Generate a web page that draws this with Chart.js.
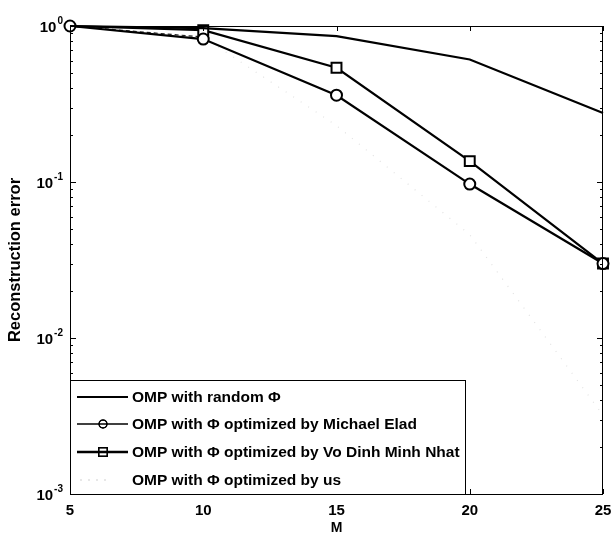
<!DOCTYPE html>
<html>
<head>
<meta charset="utf-8">
<script src="https://cdn.jsdelivr.net/npm/chart.js@4.4.1/dist/chart.umd.min.js"></script>
<style>
  html, body { margin: 0; padding: 0; background: #fff; }
  #wrap { width: 612px; height: 537px; }
</style>
</head>
<body>
<div id="wrap"><canvas id="c" width="612" height="537"></canvas></div>
<script>
// Number of measurements M and reconstruction error for each method
const mValues   = [5, 10, 15, 20, 25];
const errRandom = [1.0, 0.97, 0.86, 0.61, 0.277];
const errElad   = [1.0, 0.825, 0.36, 0.097, 0.030];
const errNhat   = [1.0, 0.94, 0.54, 0.136, 0.030];
const errOurs   = [1.0, 0.85, 0.23, 0.046, 0.0032];

const seriesNames = [
  'OMP with random \u03A6',
  'OMP with \u03A6 optimized by Michael Elad',
  'OMP with \u03A6 optimized by Vo Dinh Minh Nhat',
  'OMP with \u03A6 optimized by us'
];

const xTickValues = [5, 10, 15, 20, 25];
const yDecadeExponents = [0, -1, -2, -3];

const FONT = '"Liberation Sans", Arial, Helvetica, sans-serif';
Chart.defaults.font.family = FONT;
Chart.defaults.color = '#000';

const toPoints = arr => arr.map((v, i) => ({ x: mValues[i], y: v }));

// Axes box with inward MATLAB-style ticks, superscript decade labels, and an in-plot legend
const matlabAxes = {
  id: 'matlabAxes',
  afterDatasetsDraw(chart) {
    const { ctx, chartArea: a, scales: { x, y } } = chart;
    ctx.save();
    ctx.strokeStyle = '#000';
    ctx.lineWidth = 1;
    const seg = (x1, y1, x2, y2) => { ctx.beginPath(); ctx.moveTo(x1, y1); ctx.lineTo(x2, y2); ctx.stroke(); };

    // x ticks (top and bottom, pointing inward)
    xTickValues.forEach(v => {
      const px = Math.round(x.getPixelForValue(v)) + 0.5;
      seg(px, a.bottom, px, a.bottom - 5);
      seg(px, a.top, px, a.top + 5);
    });
    // y ticks: decades long, 2..9 short
    yDecadeExponents.forEach(e => {
      for (let m = 1; m <= 9; m++) {
        const v = m * Math.pow(10, e);
        if (v > y.max * 1.0001 || v < y.min * 0.9999) continue;
        const py = Math.round(y.getPixelForValue(v)) + 0.5;
        const len = m === 1 ? 6 : 3;
        seg(a.left, py, a.left + len, py);
        seg(a.right, py, a.right - len, py);
      }
    });
    ctx.strokeRect(Math.round(a.left) + 0.5, Math.round(a.top) + 0.5,
                   Math.round(a.right - a.left) - 1, Math.round(a.bottom - a.top));

    // decade labels 10^n
    ctx.fillStyle = '#000';
    yDecadeExponents.forEach(e => {
      const py = y.getPixelForValue(Math.pow(10, e));
      const expText = e === 0 ? '0' : '-' + Math.abs(e);
      ctx.font = 'bold 10px ' + FONT;
      const we = ctx.measureText(expText).width;
      const right = a.left - 7;
      ctx.textAlign = 'left';
      ctx.textBaseline = 'alphabetic';
      ctx.fillText(expText, right - we, py - 2);
      ctx.font = 'bold 15px ' + FONT;
      ctx.textAlign = 'right';
      ctx.fillText('10', right - we - 1, py + 6);
    });

    // legend box
    const lx = a.left, ly = 380, lw = 395, lh = a.bottom - ly;
    ctx.fillStyle = '#fff';
    ctx.fillRect(lx, ly, lw, lh);
    ctx.strokeRect(Math.round(lx) + 0.5, ly + 0.5, lw, lh);
    const rowY = [397, 424, 452, 480];
    chart.data.datasets.forEach((ds, i) => {
      const yy = rowY[i];
      ctx.save();
      ctx.strokeStyle = ds.legendColor;
      ctx.lineWidth = ds.legendWidth;
      ctx.setLineDash(ds.legendDash || []);
      seg(ds.legendDash ? 80 : 77, yy, ds.legendDash ? 112 : 128, yy);
      ctx.restore();
      if (ds.legendMarker) {
        ctx.save();
        ctx.strokeStyle = '#000';
        ctx.fillStyle = 'rgba(0,0,0,0)';
        Chart.helpers.drawPoint(ctx, { pointStyle: ds.pointStyle, radius: ds.legendRadius, borderWidth: 1.5 }, 103, yy);
        ctx.lineWidth = 1.5;
        ctx.stroke();
        ctx.restore();
      }
      ctx.fillStyle = '#000';
      ctx.font = 'bold 15.5px ' + FONT;
      ctx.textAlign = 'left';
      ctx.textBaseline = 'middle';
      ctx.fillText(seriesNames[i], 132, yy + 1);
    });
    ctx.restore();
  }
};

new Chart(document.getElementById('c'), {
  type: 'line',
  data: {
    datasets: [
      {
        label: seriesNames[0],
        data: toPoints(errRandom),
        borderColor: '#000', legendColor: '#000', borderWidth: 2.2, legendWidth: 2,
        pointRadius: 0, clip: false
      },
      {
        label: seriesNames[1],
        data: toPoints(errElad),
        borderColor: '#000', legendColor: '#000', borderWidth: 2.2, legendWidth: 1.5,
        pointStyle: 'circle', pointRadius: 5.5, pointBorderWidth: 2,
        pointBackgroundColor: '#fff', pointBorderColor: '#000',
        legendMarker: true, legendRadius: 4, clip: false
      },
      {
        label: seriesNames[2],
        data: toPoints(errNhat),
        borderColor: '#000', legendColor: '#000', borderWidth: 2.2, legendWidth: 2.5,
        pointStyle: 'rect',
        pointRadius: ctx => (ctx.dataIndex === 0 ? 0 : 7),
        pointBorderWidth: 2,
        pointBackgroundColor: '#fff', pointBorderColor: '#000',
        legendMarker: true, legendRadius: 6, clip: false
      },
      {
        label: seriesNames[3],
        data: toPoints(errOurs),
        borderColor: '#e2e2e2', legendColor: '#cfcfcf', borderWidth: 1.2, legendWidth: 1.2,
        legendDash: [2, 6],
        pointRadius: 0, clip: false,
        segment: {
          borderColor: c => (c.p0DataIndex === 0 ? '#222' : '#e2e2e2'),
          borderDash: c => (c.p0DataIndex === 0 ? [4, 3] : [1, 8])
        }
      }
    ]
  },
  plugins: [matlabAxes],
  options: {
    responsive: false,
    animation: false,
    layout: { padding: { top: 26, right: 8, left: 2, bottom: 0 } },
    plugins: { legend: { display: false }, tooltip: { enabled: false } },
    scales: {
      x: {
        type: 'linear', min: 5, max: 25,
        afterBuildTicks: s => { s.ticks = xTickValues.map(v => ({ value: v })); },
        grid: { display: false, drawTicks: false },
        border: { display: false },
        ticks: { font: { size: 15, weight: 'bold' }, padding: 8, color: '#000', maxRotation: 0 },
        title: { display: true, text: 'M', font: { size: 14, weight: 'bold' }, padding: { top: 0, bottom: 0 }, color: '#000' },
        afterFit: s => { s.height = 43; s.paddingLeft = 0; s.paddingRight = 0; }
      },
      y: {
        type: 'logarithmic', min: 0.001, max: 1,
        grid: { display: false, drawTicks: false },
        border: { display: false },
        ticks: { display: false },
        title: { display: true, text: 'Reconstruction error', font: { size: 16.5, weight: 'bold' }, padding: { top: 4, bottom: 0 }, color: '#000' },
        afterFit: s => { s.width = 68; }
      }
    }
  }
});
</script>
</body>
</html>
